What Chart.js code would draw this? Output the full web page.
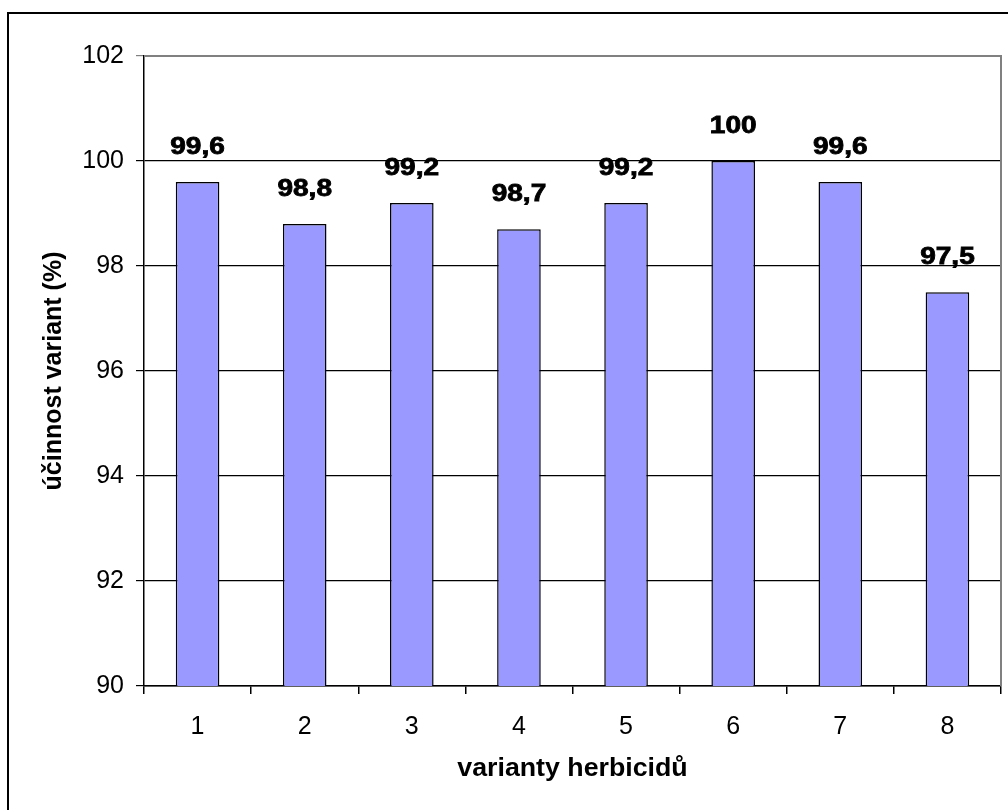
<!DOCTYPE html>
<html>
<head>
<meta charset="utf-8">
<script src="https://cdn.jsdelivr.net/npm/chart.js@4/dist/chart.umd.min.js"></script>
<style>
html,body{margin:0;padding:0;background:#fff;}
#wrap{width:1008px;height:810px;position:relative;}
</style>
</head>
<body>
<div id="wrap"><canvas id="c"></canvas></div>
<script>
const categories = ['1', '2', '3', '4', '5', '6', '7', '8'];
const efficiency = [99.6, 98.8, 99.2, 98.7, 99.2, 100, 99.6, 97.5];
const yTitle = 'účinnost variant (%)';
const xTitle = 'varianty herbicidů';
const yMin = 90, yMax = 102, yStep = 2;

const FONT = '"Liberation Sans", Arial, sans-serif';

const decor = {
  id: 'decor',
  afterDatasetsDraw(chart) {
    const ctx = chart.ctx;
    const meta = chart.getDatasetMeta(0);
    meta.data.forEach((bar, i) => {
      const txt = String(efficiency[i]).replace('.', ',');
      ctx.save();
      ctx.fillStyle = '#000';
      ctx.strokeStyle = '#000';
      ctx.lineWidth = 0.8;
      ctx.font = 'bold 23px ' + FONT;
      ctx.textAlign = 'center';
      ctx.textBaseline = 'alphabetic';
      ctx.translate(bar.x, bar.y - 28);
      ctx.scale(1.22, 1);
      ctx.fillText(txt, 0, 0);
      ctx.strokeText(txt, 0, 0);
      ctx.restore();
    });
  },
  afterDraw(chart) {
    const ctx = chart.ctx;
    const a = chart.chartArea;
    ctx.save();
    // plot top/right border (gray)
    ctx.strokeStyle = '#808080';
    ctx.lineWidth = 2;
    ctx.beginPath();
    ctx.moveTo(a.left, a.top);
    ctx.lineTo(a.right, a.top);
    ctx.lineTo(a.right, a.bottom);
    ctx.stroke();
    // outer chart border
    ctx.strokeStyle = '#000';
    ctx.lineWidth = 2;
    ctx.strokeRect(8, 13, 1200, 1000);
    // axis titles
    ctx.fillStyle = '#000';
    ctx.font = 'bold 25px ' + FONT;
    ctx.textAlign = 'center';
    ctx.textBaseline = 'middle';
    ctx.save();
    ctx.translate((a.left + a.right) / 2, 769);
    ctx.scale(1.07, 1);
    ctx.fillText(xTitle, 0, 0);
    ctx.restore();
    ctx.translate(54, (a.top + a.bottom) / 2);
    ctx.rotate(-Math.PI / 2);
    ctx.fillText(yTitle, 0, 0);
    ctx.restore();
  }
};

new Chart(document.getElementById('c'), {
  type: 'bar',
  data: {
    labels: categories,
    datasets: [{
      data: efficiency,
      backgroundColor: '#9999FF',
      borderColor: '#000',
      borderWidth: 1.5,
      barPercentage: 0.407,
      categoryPercentage: 1.0
    }]
  },
  options: {
    responsive: true,
    maintainAspectRatio: false,
    animation: false,
    layout: { padding: { left: 0, top: 56, right: 7, bottom: 0 } },
    plugins: { legend: { display: false }, tooltip: { enabled: false } },
    scales: {
      x: {
        offset: true,
        grid: { offset: true, drawOnChartArea: false, drawTicks: true, tickLength: 8, color: '#000', lineWidth: 1.5 },
        border: { display: true, color: '#000', width: 1.5 },
        ticks: { color: '#000', font: { family: FONT, size: 25 }, padding: 18, maxRotation: 0 },
        afterFit(s) { s.height = 124; }
      },
      y: {
        min: yMin, max: yMax,
        grid: {
          drawTicks: true, tickLength: 8, lineWidth: 1.2,
          color: (c) => (c.tick && c.tick.value === yMax ? '#808080' : '#000')
        },
        border: { display: true, color: '#000', width: 1.5 },
        ticks: { stepSize: yStep, color: '#000', font: { family: FONT, size: 25 }, padding: 12 },
        afterFit(s) { s.width = 144; }
      }
    }
  },
  plugins: [decor]
});
</script>
</body>
</html>
